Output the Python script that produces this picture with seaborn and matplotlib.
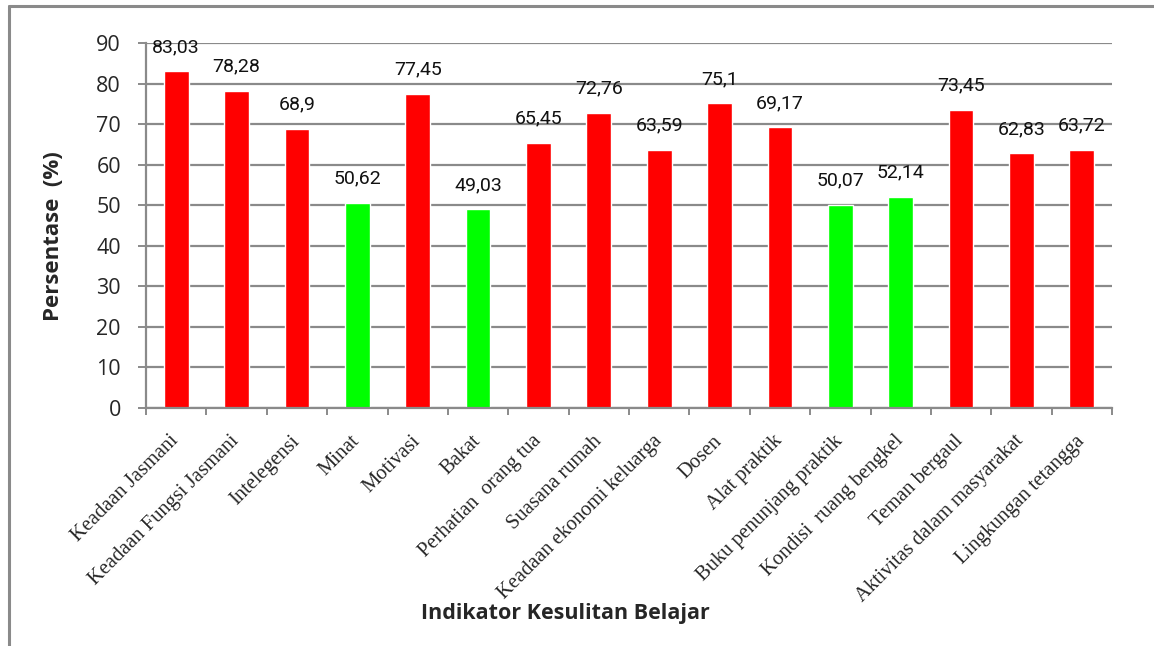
import matplotlib
matplotlib.use("Agg")
import matplotlib.pyplot as plt
import matplotlib.transforms as mtransforms
import seaborn as sns
import pandas as pd
from matplotlib.lines import Line2D

categories = ["Keadaan Jasmani", "Keadaan Fungsi Jasmani", "Intelegensi", "Minat",
              "Motivasi", "Bakat", "Perhatian  orang tua", "Suasana rumah",
              "Keadaan ekonomi keluarga", "Dosen", "Alat praktik",
              "Buku penunjang praktik", "Kondisi  ruang bengkel", "Teman bergaul",
              "Aktivitas dalam masyarakat", "Lingkungan tetangga"]
values = [83.03, 78.28, 68.9, 50.62, 77.45, 49.03, 65.45, 72.76,
          63.59, 75.1, 69.17, 50.07, 52.14, 73.45, 62.83, 63.72]
value_labels = ["83,03", "78,28", "68,9", "50,62", "77,45", "49,03", "65,45", "72,76",
                "63,59", "75,1", "69,17", "50,07", "52,14", "73,45", "62,83", "63,72"]
colors = ["#FF0000", "#FF0000", "#FF0000", "#00FF00", "#FF0000", "#00FF00", "#FF0000", "#FF0000",
          "#FF0000", "#FF0000", "#FF0000", "#00FF00", "#00FF00", "#FF0000", "#FF0000", "#FF0000"]
yticks = [0, 10, 20, 30, 40, 50, 60, 70, 80, 90]

df = pd.DataFrame({"cat": categories, "val": values})

sns.set_theme(style="white")
plt.rcParams['font.family'] = ['Lato', 'DejaVu Sans']

fig = plt.figure(figsize=(11.54, 6.46), dpi=100)
ax = fig.add_axes([146/1154, 1 - 408/646, (1112-146)/1154, (408-43)/646])

sns.barplot(data=df, x="cat", y="val", hue="cat", palette=colors, legend=False,
            width=0.41, ax=ax, saturation=1)

ax.set_ylim(0, 90)
ax.set_xlim(-0.5, len(categories) - 0.5)
ax.set_yticks(yticks)
ax.set_yticklabels([str(t) for t in yticks], fontsize=15.5, family=['Open Sans', 'DejaVu Sans'])
ax.yaxis.grid(True, color="#8a8a8a", linewidth=1.6)
ax.set_axisbelow(True)
ax.tick_params(axis="y", length=6, width=1.4, color="#8a8a8a", left=True, pad=12)

ax.set_xticks(range(len(categories)))
ax.set_xticklabels(categories, rotation=45, ha="right", va="top", rotation_mode="anchor",
                   fontsize=14.75, family=["Liberation Serif"])
ax.tick_params(axis="x", which="major", length=0, pad=17)
shift = mtransforms.ScaledTranslation(-7/100, 0, fig.dpi_scale_trans)
for lbl in ax.get_xticklabels():
    lbl.set_transform(lbl.get_transform() + shift)
ax.set_xticks([i - 0.5 for i in range(len(categories) + 1)], minor=True)
ax.tick_params(axis="x", which="minor", length=5, width=1.4, color="#8a8a8a", bottom=True)

for s in ["top", "right"]:
    ax.spines[s].set_visible(False)
for s in ["left", "bottom"]:
    ax.spines[s].set_color("#8a8a8a")
    ax.spines[s].set_linewidth(1.6)

for i, (v, lab) in enumerate(zip(values, value_labels)):
    ax.annotate(lab, (i, v), xytext=(0, 11), textcoords="offset points",
                ha="center", va="bottom", fontsize=14,
                family=['Roboto', 'DejaVu Sans'], color="#111111")

ax.set_ylabel("Persentase  (%)", fontsize=16, fontweight="bold",
              family=['Open Sans', 'DejaVu Sans'])
ax.yaxis.set_label_coords((64 - 146) / (1112 - 146), (408 - 236) / (408 - 43))
ax.set_xlabel("")
fig.text(565/1154, 1 - 613/646, "Indikator Kesulitan Belajar", ha="center", va="center",
         fontsize=15.5, fontweight="bold", family=['Open Sans', 'DejaVu Sans'])

# outer frame
fig.add_artist(Line2D([9/1154, 9/1154], [0, 1 - 6/646], color="#8a8a8a", linewidth=2.2,
                      transform=fig.transFigure))
fig.add_artist(Line2D([9/1154, 1], [1 - 6/646, 1 - 6/646], color="#8a8a8a", linewidth=2.2,
                      transform=fig.transFigure))

fig.savefig("out.png", dpi=100)
